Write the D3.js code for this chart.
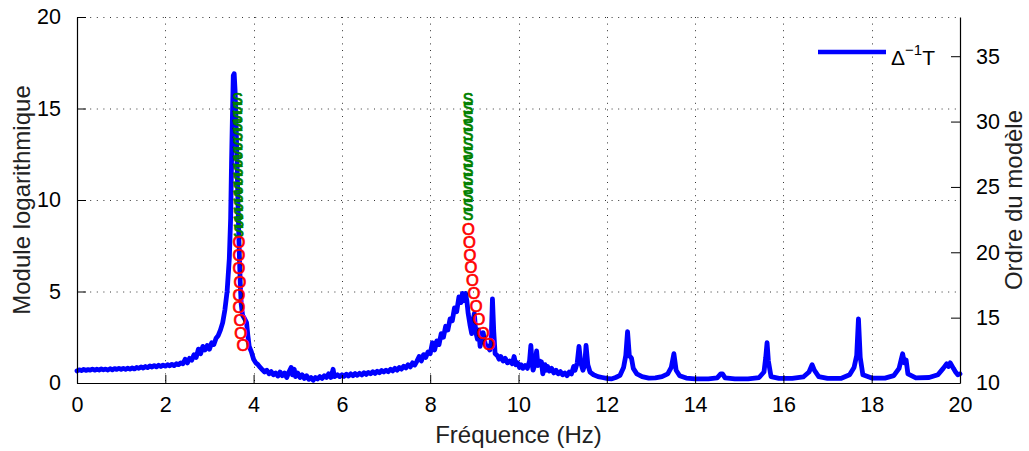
<!DOCTYPE html>
<html><head><meta charset="utf-8">
<script src="https://cdn.jsdelivr.net/npm/d3@7"></script>
<style>
html,body{margin:0;padding:0;background:#fff;}
svg{display:block;font-family:"Liberation Sans",Arial,Helvetica,sans-serif;}
</style></head>
<body>
<svg id="chart" width="1029" height="451"></svg>
<script>
// ---- data ----
const xTicks = [0,2,4,6,8,10,12,14,16,18,20];
const leftTicks = [0,5,10,15,20];
const rightTicks = [10,15,20,25,30,35];
const xLabel = "Fréquence (Hz)";
const leftLabel = "Module logarithmique";
const rightLabel = "Ordre du modèle";

// Δ^-1 T curve: [frequency (Hz), log modulus]
const spectrum = [
[0,0.66],[0.05,0.72],[0.1,0.68],[0.15,0.74],[0.2,0.69],[0.25,0.73],[0.3,0.7],[0.35,0.76],[0.4,0.7],[0.45,0.75],[0.5,0.71],[0.55,0.77],[0.6,0.72],[0.65,0.76],[0.7,0.71],[0.75,0.78],[0.8,0.72],[0.85,0.79],[0.9,0.74],[0.95,0.8],[1.0,0.74],[1.05,0.8],[1.1,0.75],[1.15,0.81],[1.2,0.76],[1.25,0.82],[1.3,0.77],[1.35,0.85],[1.4,0.8],[1.45,0.88],[1.5,0.82],[1.55,0.9],[1.6,0.84],[1.65,0.93],[1.7,0.87],[1.75,0.95],[1.8,0.88],[1.85,0.97],[1.9,0.9],[1.95,0.98],[2.0,0.92],[2.05,1.0],[2.1,0.94],[2.15,1.02],[2.2,0.95],[2.25,1.05],[2.3,1.0],[2.35,1.1],[2.4,1.05],[2.45,1.3],[2.5,1.1],[2.55,1.35],[2.6,1.25],[2.65,1.55],[2.7,1.4],[2.75,1.85],[2.8,1.6],[2.85,2.0],[2.9,1.8],[2.95,2.05],[3.0,1.85],[3.05,2.2],[3.1,2.1],[3.15,2.45],[3.2,2.6],[3.25,2.9],[3.3,3.3],[3.35,4.0],[3.4,5.0],[3.45,6.8],[3.48,9.0],[3.5,12.0],[3.52,14.5],[3.54,16.8],[3.56,16.9],[3.58,16.0],[3.6,14.5],[3.62,12.5],[3.64,10.5],[3.66,8.5],[3.68,6.8],[3.7,5.3],[3.72,4.3],[3.75,3.7],[3.8,3.5],[3.84,3.3],[3.87,2.6],[3.9,2.0],[3.95,1.7],[4.0,1.3],[4.05,1.1],[4.1,1.0],[4.15,0.85],
[4.2,0.72],[4.25,0.6],[4.3,0.7],[4.35,0.5],[4.4,0.62],[4.45,0.45],[4.5,0.55],[4.55,0.38],[4.6,0.6],[4.65,0.4],[4.7,0.55],[4.75,0.3],[4.8,0.6],[4.85,0.85],[4.88,0.45],[4.92,0.75],[4.95,0.35],[5.0,0.55],[5.05,0.3],[5.1,0.45],[5.15,0.25],[5.2,0.4],[5.25,0.2],[5.3,0.3],[5.35,0.15],[5.4,0.3],[5.45,0.22],[5.5,0.35],[5.55,0.25],[5.6,0.4],[5.65,0.3],[5.7,0.5],[5.75,0.3],[5.8,0.75],[5.83,0.35],[5.9,0.45],[5.95,0.35],[6.0,0.45],[6.05,0.36],[6.1,0.48],[6.15,0.38],[6.2,0.5],[6.25,0.4],[6.3,0.52],[6.35,0.42],[6.4,0.53],[6.45,0.44],[6.5,0.56],[6.55,0.47],[6.6,0.58],[6.65,0.5],[6.7,0.62],[6.75,0.52],[6.8,0.64],[6.85,0.56],[6.9,0.68],[6.95,0.6],[7.0,0.7],[7.05,0.62],[7.1,0.75],[7.15,0.66],[7.2,0.8],[7.25,0.7],[7.3,0.85],[7.35,0.76],[7.4,0.92],[7.45,0.82],[7.5,1.0],[7.55,0.88],[7.6,1.1],[7.65,0.98],[7.7,1.2],[7.75,1.45],[7.8,1.2],[7.85,1.55],[7.9,1.4],[7.95,1.7],[8.0,1.6],[8.05,2.2],[8.1,1.8],[8.15,2.3],[8.2,2.1],[8.25,2.7],[8.3,2.5],[8.35,3.1],[8.4,2.9],[8.45,3.5],[8.5,3.4],[8.55,4.1],[8.6,3.9],[8.65,4.7],[8.7,4.4],[8.73,4.9],[8.76,4.5],[8.8,4.9],[8.83,4.5],[8.86,3.8],[8.9,3.2],[8.94,2.7],[8.97,3.4],[9.0,3.8],[9.03,2.8],[9.07,2.4],[9.1,2.9],[9.13,2.0],[9.17,2.6],[9.2,2.75],[9.25,2.1],[9.3,2.0],[9.35,1.8],[9.38,2.2],[9.41,4.6],[9.44,2.8],[9.47,1.6],[9.52,1.5],[9.56,1.3],[9.6,1.45],[9.65,1.2],[9.7,1.35],[9.75,1.1],[9.8,1.2],[9.86,1.05],[9.9,1.45],[9.94,1.0],[9.98,1.1],[10.02,0.85],[10.06,1.0],[10.1,0.8],[10.15,0.95],[10.2,0.8],[10.25,1.2],[10.28,2.05],[10.31,1.0],[10.33,0.7],[10.37,1.0],[10.41,1.75],[10.44,0.95],[10.48,1.2],[10.52,1.15],[10.55,0.5],[10.6,1.0],[10.63,0.7],[10.66,0.9],[10.7,0.65],[10.75,0.8],[10.8,0.55],[10.85,0.7],[10.9,0.5],[10.95,0.62],[11.0,0.45],[11.05,0.55],[11.1,0.4],[11.15,0.6],[11.2,0.5],[11.25,0.9],[11.28,0.7],[11.33,1.1],[11.37,2.0],[11.41,1.1],[11.46,0.7],[11.5,1.0],[11.53,2.05],[11.57,1.0],[11.62,0.6],[11.7,0.45],[11.8,0.35],[11.9,0.3],[12.0,0.25],[12.1,0.22],[12.2,0.3],[12.3,0.42],[12.38,0.85],[12.43,1.5],[12.47,2.8],[12.51,1.5],[12.56,1.35],[12.6,0.8],[12.68,0.5],[12.8,0.35],[12.95,0.27],[13.1,0.28],[13.25,0.35],[13.38,0.5],[13.46,0.85],[13.52,1.6],[13.57,0.7],[13.65,0.4],[13.8,0.27],[14.0,0.22],[14.3,0.22],[14.5,0.28],[14.58,0.5],[14.62,0.5],[14.68,0.28],[14.9,0.22],[15.2,0.22],[15.45,0.3],[15.56,0.6],[15.6,1.4],[15.63,2.2],[15.66,1.2],[15.72,0.35],[15.9,0.25],[16.2,0.25],[16.45,0.33],[16.58,0.6],[16.65,1.0],[16.7,0.7],[16.8,0.35],[17.0,0.25],[17.3,0.25],[17.5,0.45],[17.6,0.85],[17.66,1.5],[17.7,3.5],[17.74,1.4],[17.8,0.45],[18.0,0.27],[18.3,0.27],[18.5,0.4],[18.62,0.8],[18.7,1.6],[18.74,1.1],[18.78,1.25],[18.82,0.5],[19.0,0.28],[19.3,0.3],[19.5,0.45],[19.62,0.8],[19.7,1.05],[19.74,0.9],[19.78,1.1],[19.85,0.8],[19.9,0.6],[19.95,0.45],[20.0,0.5]
];

// stabilisation markers (right axis: model order)
const mode1StableFreq = [3.64,3.64,3.64,3.64,3.645,3.645,3.645,3.645,3.65,3.65,3.65,3.65,3.655,3.655,3.66,3.66];
const mode1StableOrder = [31.7,31.0,30.3,29.7,29.0,28.3,27.6,27.0,26.3,25.6,24.9,24.3,23.6,22.9,22.3,21.6];
const mode1OtherFreq = [3.67,3.67,3.67,3.69,3.67,3.67,3.69,3.71,3.76];
const mode1OtherOrder = [20.8,19.8,18.8,17.7,16.7,15.8,14.8,13.8,12.9];
const mode2StableFreq = [8.86,8.86,8.86,8.86,8.86,8.86,8.86,8.86,8.86,8.86,8.86,8.86,8.86,8.86];
const mode2StableOrder = [31.7,31.0,30.3,29.7,29.0,28.3,27.6,27.0,26.3,25.6,24.9,24.3,23.6,22.9];
const mode2OtherFreq = [8.868,8.886,8.90,8.925,8.958,8.99,9.04,9.105,9.20,9.33];
const mode2OtherOrder = [21.8,20.8,19.8,18.9,17.9,16.9,15.9,14.9,13.8,12.95];

// ---- drawing ----
const svg = d3.select("#chart");
const L = 77, R = 960, T = 17, B = 383;
const x = d3.scaleLinear().domain([0,20]).range([L,R]);
const yL = d3.scaleLinear().domain([0,20]).range([B,T]);
const yR = d3.scaleLinear().domain([10,38]).range([B,T]);
const tickFont = 21.5, labelFont = 24;

// grid
const grid = svg.append("g").attr("stroke","#333").attr("stroke-width",1).attr("stroke-dasharray","1,5.6");
grid.selectAll("line.h").data(leftTicks.filter(d=>d>0)).join("line")
  .attr("x1",L).attr("x2",R).attr("y1",d=>yL(d)+0.5).attr("y2",d=>yL(d)+0.5);
grid.selectAll("line.v").data(xTicks.filter(d=>d>0&&d<20)).join("line")
  .attr("y1",T).attr("y2",B).attr("x1",d=>Math.round(x(d))+0.5).attr("x2",d=>Math.round(x(d))+0.5);

// curve
svg.append("path").datum(spectrum)
  .attr("fill","none").attr("stroke","#0000ff").attr("stroke-width",4.8)
  .attr("stroke-linejoin","round").attr("stroke-linecap","round")
  .attr("d", d3.line().x(d=>x(d[0])).y(d=>yL(d[1])));

// markers
function markers(fs, os, ch, col, size){
  svg.append("g").selectAll("text").data(fs.map((f,i)=>[f,os[i]])).join("text")
    .attr("x",d=>x(d[0])).attr("y",d=>yR(d[1]))
    .attr("text-anchor","middle").attr("dy","0.36em")
    .attr("font-size",size).attr("fill",col)
    .attr("stroke",col).attr("stroke-width",0.7).text(ch);
}
markers(mode1StableFreq, mode1StableOrder, "S", "#008000", 16);
markers(mode2StableFreq, mode2StableOrder, "S", "#008000", 16);
markers(mode1OtherFreq, mode1OtherOrder, "O", "#ff0000", 16.5);
markers(mode2OtherFreq, mode2OtherOrder, "O", "#ff0000", 16.5);

// axes
const axX = d3.axisBottom(x).tickValues(xTicks).tickSizeInner(-8).tickSizeOuter(0).tickPadding(15).tickFormat(d3.format("d"));
const gx = svg.append("g").attr("transform",`translate(0,${B})`).call(axX);
const axL = d3.axisLeft(yL).tickValues(leftTicks).tickSizeInner(-9).tickSizeOuter(0).tickPadding(16).tickFormat(d3.format("d"));
const gl = svg.append("g").attr("transform",`translate(${L},0)`).call(axL);
const axR = d3.axisRight(yR).tickValues(rightTicks).tickSizeInner(-9).tickSizeOuter(0).tickPadding(16).tickFormat(d3.format("d"));
const gr = svg.append("g").attr("transform",`translate(${R},0)`).call(axR);
[gx,gl,gr].forEach(g=>{
  g.selectAll("text").attr("font-size",tickFont).attr("fill","#000").attr("font-family",'"Liberation Sans",Arial,sans-serif');
  g.selectAll("line").attr("stroke","#000");
  g.select(".domain").attr("stroke","#000").attr("stroke-width",1.2);
});
gx.selectAll("text").attr("dy","0.71em").attr("y",14);

// axis titles
svg.append("text").attr("x",(L+R)/2).attr("y",443).attr("text-anchor","middle")
  .attr("font-size",labelFont).attr("fill","#222").text(xLabel);
svg.append("text").attr("transform",`translate(30,${(T+B)/2}) rotate(-90)`).attr("text-anchor","middle")
  .attr("font-size",labelFont).attr("fill","#222").text(leftLabel);
svg.append("text").attr("transform",`translate(1022,${(T+B)/2}) rotate(-90)`).attr("text-anchor","middle")
  .attr("font-size",labelFont).attr("fill","#222").text(rightLabel);

// legend
const lg = svg.append("g");
lg.append("line").attr("x1",818).attr("x2",886).attr("y1",52).attr("y2",52)
  .attr("stroke","#0000ff").attr("stroke-width",4.5);
const lt = lg.append("text").attr("x",891).attr("y",65).attr("font-size",21).attr("fill","#000");
lt.append("tspan").text("Δ");
lt.append("tspan").attr("font-size",15).attr("dy",-10).text("−1");
lt.append("tspan").attr("dy",10).text("T");
</script>
</body></html>
